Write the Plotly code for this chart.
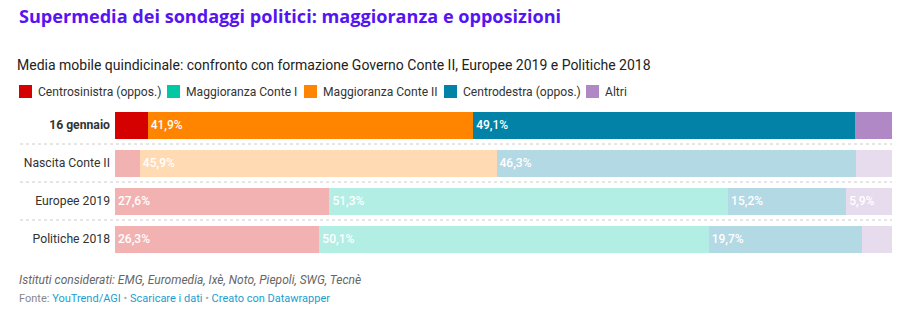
import plotly.graph_objects as go

# --- data -------------------------------------------------------------
categories = ["16 gennaio", "Nascita Conte II", "Europee 2019", "Politiche 2018"]
series_names = [
    "Centrosinistra (oppos.)",
    "Maggioranza Conte I",
    "Maggioranza Conte II",
    "Centrodestra (oppos.)",
    "Altri",
]
centrosinistra = [4.2, 3.2, 27.6, 26.3]
maggioranza_conte_1 = [0.0, 0.0, 51.3, 50.1]
maggioranza_conte_2 = [41.9, 45.9, 0.0, 0.0]
centrodestra = [49.1, 46.3, 15.2, 19.7]
altri = [4.8, 4.6, 5.9, 3.9]
series_values = [centrosinistra, maggioranza_conte_1, maggioranza_conte_2, centrodestra, altri]

# --- styling ----------------------------------------------------------
series_rgb = [(213, 0, 0), (0, 199, 164), (255, 132, 0), (2, 130, 166), (176, 136, 198)]
W, H = 920, 334
M_L, M_R, M_T, M_B = 115, 28, 106, 76
PLOT_W = W - M_L - M_R
PLOT_H = H - M_T - M_B
FONT = "Roboto"


def px_x(x):
    return (x - M_L) / PLOT_W


def px_y(y):
    return (H - M_B - y) / PLOT_H


def fmt(v):
    return (f"{v:.1f}".replace(".", ",") + "%") if v >= 5 else ""


fig = go.Figure()
for name, vals, rgb in zip(series_names, series_values, series_rgb):
    colors = [
        f"rgba({rgb[0]},{rgb[1]},{rgb[2]},1)" if i == 0 else f"rgba({rgb[0]},{rgb[1]},{rgb[2]},0.3)"
        for i in range(len(categories))
    ]
    fig.add_trace(
        go.Bar(
            y=categories,
            x=vals,
            name=name,
            orientation="h",
            marker=dict(color=colors, line=dict(width=0)),
            text=[fmt(v) for v in vals],
            textposition="inside",
            insidetextanchor="start",
            textangle=0,
            textfont=dict(family=FONT, size=12, color="white", weight=500),
            hoverinfo="skip",
            showlegend=False,
        )
    )

shapes = []
# dotted separators between rows
for k in range(len(categories) - 1):
    shapes.append(
        dict(
            type="line", xref="paper", yref="y",
            x0=px_x(20), x1=1, y0=k + 0.5, y1=k + 0.5,
            line=dict(color="#cccccc", width=1, dash="dot"),
        )
    )

annotations = []
# custom legend row
legend_x = [19, 167, 304, 444, 586]
for name, rgb, lx in zip(series_names, series_rgb, legend_x):
    shapes.append(
        dict(
            type="rect", xref="paper", yref="paper",
            x0=px_x(lx), x1=px_x(lx + 13), y0=px_y(85), y1=px_y(98),
            fillcolor=f"rgb({rgb[0]},{rgb[1]},{rgb[2]})", line=dict(width=0),
        )
    )
    annotations.append(
        dict(
            text=name, xref="paper", yref="paper", x=px_x(lx + 17), y=px_y(91.5),
            xanchor="left", yanchor="middle", showarrow=False,
            font=dict(family=FONT, size=12.1, color="#333333"),
        )
    )

# title, subtitle and footer
annotations += [
    dict(
        text="<b>Supermedia dei sondaggi politici: maggioranza e opposizioni</b>",
        xref="paper", yref="paper", x=px_x(17), y=px_y(15.5),
        xanchor="left", yanchor="middle", showarrow=False,
        font=dict(family="Open Sans", size=18.1, color="#5614f2"),
    ),
    dict(
        text="Media mobile quindicinale: confronto con formazione Governo Conte II, Europee 2019 e Politiche 2018",
        xref="paper", yref="paper", x=px_x(15), y=px_y(65),
        xanchor="left", yanchor="middle", showarrow=False,
        font=dict(family=FONT, size=14, color="#222222"),
    ),
    dict(
        text="<i>Istituti considerati: EMG, Euromedia, Ixè, Noto, Piepoli, SWG, Tecnè</i>",
        xref="paper", yref="paper", x=px_x(17), y=px_y(280),
        xanchor="left", yanchor="middle", showarrow=False,
        font=dict(family=FONT, size=12, color="#666666"),
    ),
    dict(
        text=(
            "<span style='color:#888888'>Fonte: </span>"
            "<span style='color:#1a9ecf'>YouTrend/AGI</span>"
            "<span style='color:#aaaaaa'> • </span>"
            "<span style='color:#1a9ecf'>Scaricare i dati</span>"
            "<span style='color:#aaaaaa'> • </span>"
            "<span style='color:#1a9ecf'>Creato con Datawrapper</span>"
        ),
        xref="paper", yref="paper", x=px_x(17), y=px_y(298),
        xanchor="left", yanchor="middle", showarrow=False,
        font=dict(family=FONT, size=11, color="#888888"),
    ),
]

ticktext = [f"<b>{c}</b>" if i == 0 else c for i, c in enumerate(categories)]

fig.update_layout(
    width=W, height=H, autosize=False,
    margin=dict(l=M_L, r=M_R, t=M_T, b=M_B, pad=0),
    barmode="stack",
    bargap=11 / 38,
    paper_bgcolor="white",
    plot_bgcolor="white",
    font=dict(family=FONT, color="#333333"),
    xaxis=dict(range=[0, 100], visible=False, fixedrange=True),
    yaxis=dict(
        autorange="reversed",
        tickmode="array", tickvals=categories, ticktext=ticktext,
        tickfont=dict(family=FONT, size=12.2, color="#333333"),
        showgrid=False, zeroline=False, showline=False,
        ticks="", ticklabelstandoff=4, fixedrange=True,
    ),
    shapes=shapes,
    annotations=annotations,
    showlegend=False,
)

fig.write_html("out.html")
